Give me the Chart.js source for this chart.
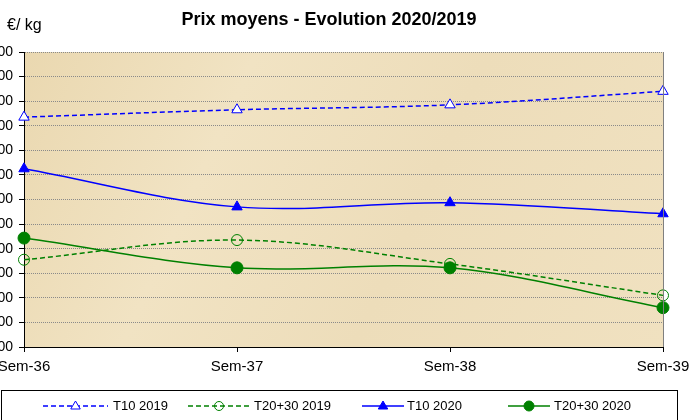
<!DOCTYPE html>
<html>
<head>
<meta charset="utf-8">
<script src="https://cdn.jsdelivr.net/npm/chart.js@4/dist/chart.umd.min.js"></script>
<style>
  html, body { margin: 0; padding: 0; background: #ffffff; overflow: hidden; }
  #wrap { position: absolute; left: -40px; top: 0; width: 733px; height: 420px; }
</style>
</head>
<body>
<div id="wrap"><canvas id="c" width="733" height="420"></canvas></div>
<script>
const categories = ["Sem-36", "Sem-37", "Sem-38", "Sem-39"];
const t10_2019   = [9.35, 9.65, 9.85, 10.40];
const t2030_2019 = [3.55, 4.35, 3.38, 2.10];
const t10_2020   = [7.25, 5.70, 5.87, 5.42];
const t2030_2020 = [4.43, 3.22, 3.22, 1.60];
const yMin = 0, yMax = 12, yStep = 1;
const seriesNames = ["T10 2019", "T20+30 2019", "T10 2020", "T20+30 2020"];
const titleText = "Prix moyens - Evolution 2020/2019";
const unitText = "€/ kg";

const BLUE = "#0000FF", GREEN = "#008000";

const bgPlugin = {
  id: "bg",
  beforeDraw(chart) {
    const { ctx, chartArea: a } = chart;
    ctx.save();
    const g = ctx.createLinearGradient(a.left, a.top, a.right, a.bottom);
    g.addColorStop(0, "#EAD8B0");
    g.addColorStop(0.3, "#F1E3C3");
    g.addColorStop(0.6, "#EDDDBA");
    g.addColorStop(1, "#F0E1C0");
    ctx.fillStyle = g;
    ctx.fillRect(a.left, a.top, a.right - a.left, a.bottom - a.top);
    ctx.restore();
  },
  afterDraw(chart) {
    const { ctx, chartArea: a } = chart;
    ctx.save();
    // right border
    ctx.strokeStyle = "#808080";
    ctx.lineWidth = 1;
    ctx.beginPath();
    ctx.moveTo(Math.round(a.right) + 0.5, a.top);
    ctx.lineTo(Math.round(a.right) + 0.5, a.bottom);
    ctx.stroke();
    // title
    ctx.fillStyle = "#000";
    ctx.textAlign = "center";
    ctx.textBaseline = "middle";
    ctx.font = "bold 18px 'Liberation Sans', Arial, sans-serif";
    ctx.fillText(titleText, 369, 20);
    // unit
    ctx.textAlign = "left";
    ctx.font = "16px 'Liberation Sans', Arial, sans-serif";
    ctx.fillText(unitText, 47, 26);
    // legend box
    ctx.strokeStyle = "#000";
    ctx.lineWidth = 1;
    ctx.strokeRect(41.5, 390.5, 676, 40);
    // legend items
    const items = [
      { x0: 83, x1: 148, tx: 153 },
      { x0: 228, x1: 290, tx: 294 },
      { x0: 402, x1: 444, tx: 447 },
      { x0: 548, x1: 590, tx: 594 }
    ];
    const ly = 406;
    chart.data.datasets.forEach((ds, i) => {
      const it = items[i];
      ctx.save();
      ctx.strokeStyle = ds.borderColor;
      ctx.lineWidth = ds.borderWidth;
      ctx.setLineDash(ds.borderDash || []);
      ctx.beginPath();
      ctx.moveTo(it.x0, ly);
      ctx.lineTo(it.x1, ly);
      ctx.stroke();
      ctx.setLineDash([]);
      const cx = (it.x0 + it.x1) / 2;
      const r = ds.pointRadius - 1;
      ctx.fillStyle = ds.pointBackgroundColor;
      ctx.lineWidth = 1;
      ctx.beginPath();
      if (ds.pointStyle === "triangle") {
        ctx.moveTo(cx, ly - r);
        ctx.lineTo(cx + r * 0.95, ly + r * 0.6);
        ctx.lineTo(cx - r * 0.95, ly + r * 0.6);
        ctx.closePath();
      } else {
        ctx.arc(cx, ly, r, 0, Math.PI * 2);
      }
      ctx.fill();
      ctx.stroke();
      ctx.restore();
      ctx.fillStyle = "#000";
      ctx.textAlign = "left";
      ctx.textBaseline = "middle";
      ctx.font = "13px 'Liberation Sans', Arial, sans-serif";
      ctx.fillText(seriesNames[i], it.tx, ly);
    });
    ctx.restore();
  }
};

const common = { fill: false, tension: 0.35, clip: false, pointBorderWidth: 1, borderWidth: 1.5, pointRadius: 6, pointHoverRadius: 6 };

new Chart(document.getElementById("c"), {
  type: "line",
  data: {
    labels: categories,
    datasets: [
      Object.assign({}, common, { label: seriesNames[0], data: t10_2019, borderColor: BLUE, borderDash: [5, 3], pointStyle: "triangle", pointBackgroundColor: "#FFFFFF", pointBorderColor: BLUE }),
      Object.assign({}, common, { label: seriesNames[1], data: t2030_2019, borderColor: GREEN, borderDash: [5, 3], pointStyle: "circle", pointRadius: 5.5, pointBackgroundColor: "rgba(255,255,255,0)", pointBorderColor: GREEN }),
      Object.assign({}, common, { label: seriesNames[2], data: t10_2020, borderColor: BLUE, pointStyle: "triangle", pointBackgroundColor: BLUE, pointBorderColor: BLUE }),
      Object.assign({}, common, { label: seriesNames[3], data: t2030_2020, borderColor: GREEN, pointStyle: "circle", pointBackgroundColor: GREEN, pointBorderColor: GREEN })
    ]
  },
  options: {
    responsive: false,
    animation: false,
    devicePixelRatio: 1,
    layout: { padding: { left: 0, right: 30, top: 52, bottom: 0 } },
    plugins: { legend: { display: false }, title: { display: false }, tooltip: { enabled: false } },
    scales: {
      x: {
        offset: false,
        afterFit(s) { s.height = 73; s.paddingRight = 0; },
        grid: { drawOnChartArea: false, drawTicks: true, tickLength: 5, color: "#000", tickColor: "#000" },
        border: { display: true, color: "#000", width: 1 },
        ticks: { color: "#000", font: { size: 15, family: "'Liberation Sans', Arial, sans-serif" }, padding: 6, maxRotation: 0, autoSkip: false }
      },
      y: {
        min: yMin, max: yMax,
        afterFit(s) { s.width = 64; },
        grid: { color: "#8A8A8A", lineWidth: 1, tickLength: 5, tickColor: "#000", tickBorderDash: [], drawTicks: true },
        border: { display: true, color: "#000", width: 1, dash: [1, 1] },
        ticks: {
          stepSize: yStep, color: "#000", padding: 6,
          font: { size: 14, family: "'Liberation Sans', Arial, sans-serif" },
          callback: v => v.toFixed(2).replace(".", ",")
        }
      }
    }
  },
  plugins: [bgPlugin]
});
</script>
</body>
</html>
